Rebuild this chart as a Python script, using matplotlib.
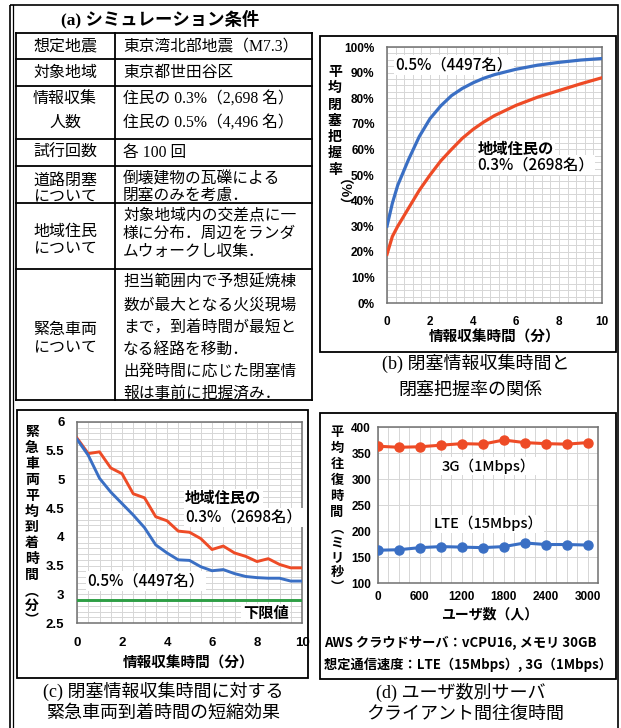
import matplotlib
matplotlib.use("Agg")
import matplotlib.pyplot as plt
from matplotlib.patches import Rectangle
from matplotlib.ticker import MultipleLocator, PercentFormatter

W, H = 621, 728

JP = ["Noto Sans CJK JP", "DejaVu Sans"]
TBL = ["Liberation Serif", "Noto Sans CJK JP"]
NUM = ["Liberation Sans", "Noto Sans CJK JP"]

RED = "#EE4B26"
BLUE = "#3A6FC4"
GREEN = "#2E9E45"
GRID = "#D6D6D6"
SPINE = "#707070"

# ---- (a) simulation conditions
cond_items = ["想定地震", "対象地域", "情報収集\n人数", "試行回数",
              "道路閉塞\nについて", "地域住民\nについて", "緊急車両\nについて"]
cond_values = [
    "東京湾北部地震（M7.3）",
    "東京都世田谷区",
    "住民の 0.3%（2,698 名）\n住民の 0.5%（4,496 名）",
    "各 100 回",
    "倒壊建物の瓦礫による\n閉塞のみを考慮．",
    "対象地域内の交差点に一\n様に分布．周辺をランダ\nムウォークし収集．",
    "担当範囲内で予想延焼棟\n数が最大となる火災現場\nまで，到着時間が最短と\nなる経路を移動．\n出発時間に応じた閉塞情\n報は事前に把握済み．",
]

# ---- (b) grasp rate vs collection time
b_time = [0, 0.25, 0.5, 1, 1.5, 2, 2.5, 3, 3.5, 4, 4.5, 5, 6, 7, 8, 9, 10]
b_rate_05 = [30, 39, 46, 56, 65, 72, 77, 81, 83.8, 86, 87.8, 89.2,
             91.3, 92.9, 94, 94.9, 95.5]
b_rate_03 = [19, 26, 30, 37, 44, 50, 55.5, 60, 64.3, 67.8, 70.7, 73.2,
             77.2, 80.4, 83, 85.6, 88]

# ---- (c) arrival time vs collection time
c_time = [0, 0.5, 1, 1.5, 2, 2.5, 3, 3.5, 4, 4.5, 5,
          5.5, 6, 6.5, 7, 7.5, 8, 8.5, 9, 9.5, 10]
c_arrival_03 = [5.72, 5.45, 5.48, 5.2, 5.1, 4.75, 4.68, 4.35, 4.28, 4.1, 4.08,
                3.97, 3.78, 3.84, 3.72, 3.66, 3.57, 3.62, 3.52, 3.46, 3.46]
c_arrival_05 = [5.7, 5.42, 5.02, 4.78, 4.58, 4.38, 4.16, 3.86, 3.72, 3.6, 3.59,
                3.48, 3.41, 3.43, 3.36, 3.31, 3.29, 3.28, 3.28, 3.23, 3.23]
c_lower = 2.9

# ---- (d) round trip time vs users
d_users = [0, 300, 600, 900, 1200, 1500, 1800, 2100, 2400, 2700, 3000]
d_rtt_3g = [363, 361, 362, 365, 368, 367, 375, 370, 368, 367, 370]
d_rtt_lte = [163, 164, 168, 170, 169, 168, 170, 177, 174, 174, 173]


def rect(x, y, w, h):
    return [x / W, 1 - (y + h) / H, w / W, h / H]


fig = plt.figure(figsize=(W / 100, H / 100), dpi=100)
bg = fig.add_axes([0, 0, 1, 1], zorder=0)
bg.set_xlim(0, W)
bg.set_ylim(H, 0)
bg.axis("off")

# frames
bg.add_patch(Rectangle((10, 5), 608, 740, fill=False, lw=1.2, ec="black", clip_on=False))
bg.plot([13, 13], [5, 728], color="black", lw=0.9)
for x, y, w, h in [(320, 36, 296, 316), (17, 410, 291, 268), (320, 413, 296, 266)]:
    bg.add_patch(Rectangle((x, y), w, h, fill=False, lw=1.3, ec="black"))

# table (a)
row_edges = [33, 59, 86, 139, 166, 203, 269, 400]
for y in row_edges:
    bg.plot([16, 312], [y, y], color="black", lw=1.3)
for x in [16, 115, 312]:
    bg.plot([x, x], [33, 400], color="black", lw=1.3)

bg.text(160, 19, "(a) シミュレーション条件", ha="center", va="center",
        fontsize=12.5, family=TBL, fontweight="bold")

left_first = [46, 73, 99, 153, 181, 232, 330]
left_pitch = [0, 0, 24, 0, 16, 17, 18.5]
right_first = [46, 73, 99, 153, 180, 215, 283]
right_pitch = [0, 0, 24, 0, 16, 18.5, 22.2]
for i in range(len(cond_items)):
    for k, line in enumerate(cond_items[i].split("\n")):
        bg.text(65, left_first[i] + k * left_pitch[i], line, ha="center", va="center",
                fontsize=11.5, family=TBL)
    for k, line in enumerate(cond_values[i].split("\n")):
        bg.text(123, right_first[i] + k * right_pitch[i], line, ha="left", va="center",
                fontsize=11.3, family=TBL)


def style(ax, size):
    ax.grid(True, which="both", color=GRID, lw=0.7)
    ax.set_axisbelow(True)
    for s in ax.spines.values():
        s.set_color(SPINE)
        s.set_linewidth(1.1)
    ax.tick_params(which="both", length=0, labelsize=size)
    for lab in ax.get_xticklabels() + ax.get_yticklabels():
        lab.set_fontfamily(NUM)
        lab.set_fontweight("bold")


def note(ax, x, y, s, size=11, weight="medium", ha="left"):
    ax.text(x, y, s, transform=ax.transAxes, fontsize=size, family=JP,
            fontweight=weight, va="center", ha=ha, zorder=3,
            bbox=dict(fc="white", ec="none", pad=1))


def stacked(x, y0, step, chars, size):
    for i, ch in enumerate(chars):
        bg.text(x, y0 + i * step, ch, ha="center", va="center", fontsize=size,
                fontweight="bold", family=JP)


# ---- (b)
axb = fig.add_axes(rect(387, 47, 215, 256), zorder=1)
axb.plot(b_time, b_rate_05, color=BLUE, lw=2.3, zorder=5)
axb.plot(b_time, b_rate_03, color=RED, lw=2.3, zorder=5)
axb.set_xlim(0, 10)
axb.set_ylim(0, 100)
axb.xaxis.set_major_locator(MultipleLocator(2))
axb.xaxis.set_minor_locator(MultipleLocator(0.4))
axb.yaxis.set_major_locator(MultipleLocator(10))
axb.yaxis.set_minor_locator(MultipleLocator(2.5))
axb.yaxis.set_major_formatter(PercentFormatter(decimals=0))
axb.tick_params(axis="x", pad=9)
axb.tick_params(axis="y", pad=9)
style(axb, 8.5)
note(axb, 0.04, 0.93, "0.5%（4497名）")
note(axb, 0.42, 0.6, "地域住民の", weight="bold")
note(axb, 0.42, 0.54, "0.3%（2698名）")
stacked(335, 72, 16.3, "平均閉塞把握率", 10)
bg.text(335, 200, "（%）", rotation=-90, ha="center", va="center", fontsize=10,
        fontweight="bold", family=JP)
bg.text(495, 337, "情報収集時間（分）", ha="center", va="center", fontsize=10.5,
        fontweight="bold", family=JP)
bg.text(476, 363, "(b) 閉塞情報収集時間と", ha="center", va="center", fontsize=13, family=TBL)
bg.text(470, 390, "閉塞把握率の関係", ha="center", va="center", fontsize=13, family=TBL)

# ---- (c)
axc = fig.add_axes(rect(77, 422, 225, 201), zorder=1)
axc.plot(c_time, c_arrival_03, color=RED, lw=2.1, zorder=5)
axc.plot(c_time, c_arrival_05, color=BLUE, lw=2.1, zorder=5)
axc.axhline(c_lower, color=GREEN, lw=2.1, zorder=5)
axc.set_xlim(0, 10)
axc.set_ylim(2.5, 6)
axc.xaxis.set_major_locator(MultipleLocator(2))
axc.xaxis.set_minor_locator(MultipleLocator(0.5))
axc.yaxis.set_major_locator(MultipleLocator(0.5))
axc.yaxis.set_minor_locator(MultipleLocator(0.1))
axc.yaxis.set_major_formatter(lambda v, p: f"{v:g}")
axc.tick_params(axis="x", pad=10)
axc.tick_params(axis="y", pad=9)
style(axc, 9.5)
note(axc, 0.48, 0.62, "地域住民の", weight="bold")
note(axc, 0.48, 0.525, "0.3%（2698名）")
note(axc, 0.045, 0.21, "0.5%（4497名）")
note(axc, 0.94, 0.05, "下限値", weight="bold", ha="right")
stacked(32, 432, 15.9, "緊急車両平均到着時間", 10)
stacked(32, 592, 14, "︵分︶", 10)
bg.text(189, 663, "情報収集時間（分）", ha="center", va="center", fontsize=10.5,
        fontweight="bold", family=JP)
bg.text(163, 691, "(c) 閉塞情報収集時間に対する", ha="center", va="center", fontsize=13, family=TBL)
bg.text(163, 713, "緊急車両到着時間の短縮効果", ha="center", va="center", fontsize=13, family=TBL)

# ---- (d)
axd = fig.add_axes(rect(378, 427, 220, 156), zorder=1)
axd.plot(d_users, d_rtt_3g, color=RED, lw=2.2, marker="o", ms=6.5, zorder=5)
axd.plot(d_users, d_rtt_lte, color=BLUE, lw=2.2, marker="o", ms=6.5, zorder=5)
axd.set_xlim(0, 3150)
axd.set_ylim(100, 400)
axd.xaxis.set_major_locator(MultipleLocator(600))
axd.xaxis.set_minor_locator(MultipleLocator(150))
axd.yaxis.set_major_locator(MultipleLocator(50))
axd.tick_params(axis="x", pad=6)
axd.tick_params(axis="y", pad=5)
style(axd, 8.5)
note(axd, 0.5, 0.75, "3G（1Mbps）", size=10.5, ha="center")
note(axd, 0.5, 0.38, "LTE（15Mbps）", size=10.5, ha="center")
stacked(337, 432, 16, "平均往復時間", 9.5)
stacked(337, 528, 14.7, "︵ミリ秒︶", 9.5)
bg.text(490, 614, "ユーザ数（人）", ha="center", va="center", fontsize=10,
        fontweight="bold", family=JP)
bg.text(324, 643, "AWS クラウドサーバ：vCPU16, メモリ 30GB", ha="left", va="center",
        fontsize=9.5, fontweight="bold", family=JP)
bg.text(324, 665, "想定通信速度：LTE（15Mbps）, 3G（1Mbps）", ha="left", va="center",
        fontsize=9.5, fontweight="bold", family=JP)
bg.text(461, 692, "(d) ユーザ数別サーバ", ha="center", va="center", fontsize=13, family=TBL)
bg.text(465, 714, "クライアント間往復時間", ha="center", va="center", fontsize=13, family=TBL)

fig.savefig("out.png", dpi=100)
